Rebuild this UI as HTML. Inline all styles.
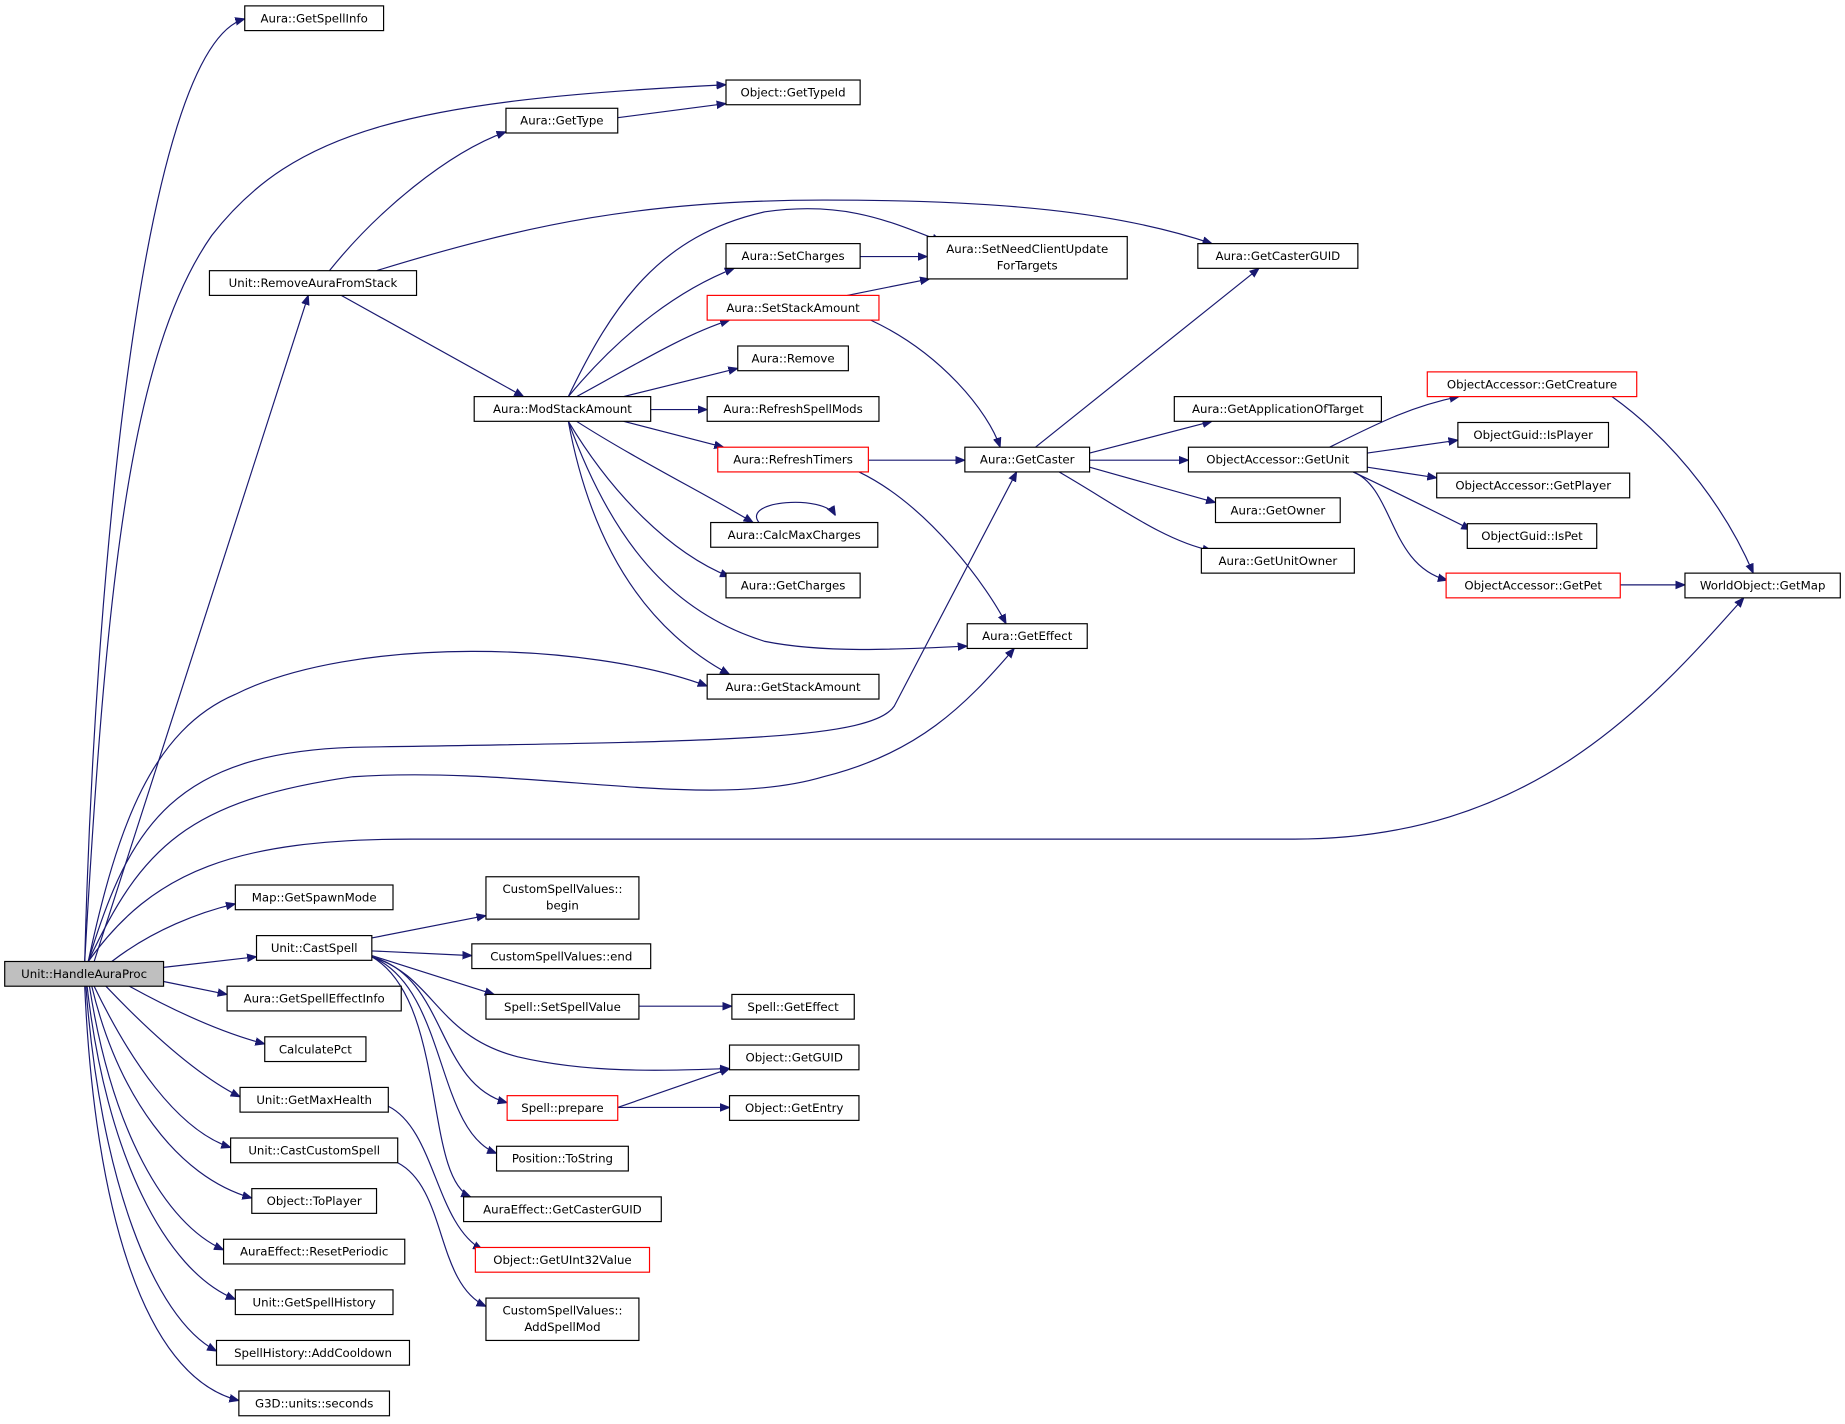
<!DOCTYPE html>
<html><head><meta charset="utf-8"><style>
html,body{margin:0;padding:0;background:#fff;}
svg{display:block;}
text{font-family:"DejaVu Sans","Liberation Sans",sans-serif;font-size:10px;fill:#000;}
.e{fill:none;stroke:#191970;stroke-width:1;}
.n{fill:#fff;stroke:#000;stroke-width:1;}
.r{fill:#fff;stroke:#ff0000;stroke-width:1;}
</style></head><body>
<svg width="1845" height="1424" viewBox="0 0 1568 1210" preserveAspectRatio="none" xmlns="http://www.w3.org/2000/svg">
<defs><marker id="a" viewBox="0 0 10 10" refX="10" refY="5" markerWidth="8" markerHeight="8" orient="auto"><path d="M0,1 L10,5 L0,9 z" fill="#191970" stroke="#191970"/></marker></defs>
<g marker-end="url(#a)">
<path class="e" d="M72,817 C 80,500 120,40 208,16"/>
<path class="e" d="M72,817 C 90,500 110,300 180,200 C 250,110 350,85 617,72"/>
<path class="e" d="M80,817 L262,251"/>
<path class="e" d="M75,817 C 100,700 130,620 200,590 C 300,540 500,545 601,583"/>
<path class="e" d="M75,817 C 110,700 150,640 300,635 C 600,630 740,630 760,600 L 864,401"/>
<path class="e" d="M75,817 C 120,720 160,680 300,660 C 450,650 600,690 700,660 C 780,640 820,600 862,551"/>
<path class="e" d="M75,817 C 130,740 200,713 350,713 L 1100,713 C 1300,713 1400,600 1482,508"/>
<path class="e" d="M95,817 C 130,790 170,775 200,768"/>
<path class="e" d="M139,822 L218,813"/>
<path class="e" d="M139,834 L193,845"/>
<path class="e" d="M110,838 C 150,860 190,878 225,887"/>
<path class="e" d="M90,838 C 130,880 170,915 204,932"/>
<path class="e" d="M80,838 C 110,900 150,960 196,975"/>
<path class="e" d="M78,838 C 100,930 150,1000 214,1018"/>
<path class="e" d="M76,838 C 95,960 140,1040 190,1062"/>
<path class="e" d="M74,838 C 90,980 140,1080 200,1104"/>
<path class="e" d="M73,838 C 85,1000 130,1120 184,1148"/>
<path class="e" d="M72,838 C 80,1020 120,1170 203,1190"/>
<path class="e" d="M280,230 C 320,180 380,130 430,112"/>
<path class="e" d="M525,100 L617,88"/>
<path class="e" d="M320,230 C 450,190 550,170 700,170 C 850,170 950,180 1030,207"/>
<path class="e" d="M290,251 L445,337"/>
<path class="e" d="M483,337 C 520,260 560,200 650,180 C 720,170 760,190 800,205"/>
<path class="e" d="M483,337 C 530,280 580,245 624,228"/>
<path class="e" d="M490,337 C 540,310 580,285 620,272"/>
<path class="e" d="M530,337 L627,313"/>
<path class="e" d="M553,348 L601,348"/>
<path class="e" d="M530,358 L615,380"/>
<path class="e" d="M490,358 C 540,390 600,420 640,444"/>
<path class="e" d="M483,358 C 520,420 570,470 620,490"/>
<path class="e" d="M483,358 C 520,460 570,520 650,545 C 700,555 760,552 822,549"/>
<path class="e" d="M483,358 C 500,450 540,530 620,573"/>
<path class="e" d="M731,218 L788,218"/>
<path class="e" d="M720,251 L790,237"/>
<path class="e" d="M740,272 C 800,300 840,350 850,380"/>
<path class="e" d="M738,391 L820,391"/>
<path class="e" d="M730,401 C 790,430 840,500 855,530"/>
<path class="e" d="M645,444 C 630,425 700,420 710,438"/>
<path class="e" d="M880,380 L1070,228"/>
<path class="e" d="M926,385 L1030,358"/>
<path class="e" d="M926,391 L1010,391"/>
<path class="e" d="M926,397 L1033,427"/>
<path class="e" d="M900,401 C 950,430 990,460 1030,468"/>
<path class="e" d="M1130,380 C 1170,360 1200,345 1240,337"/>
<path class="e" d="M1162,385 L1239,374"/>
<path class="e" d="M1162,397 L1221,406"/>
<path class="e" d="M1150,401 C 1190,420 1230,440 1250,450"/>
<path class="e" d="M1150,401 C 1185,415 1180,480 1230,493"/>
<path class="e" d="M1370,337 C 1430,380 1470,440 1490,487"/>
<path class="e" d="M1377,497 L1432,497"/>
<path class="e" d="M316,797 L413,778"/>
<path class="e" d="M316,808 L401,812"/>
<path class="e" d="M316,812 L420,845"/>
<path class="e" d="M316,813 C 370,830 370,880 440,898 C 500,912 560,910 620,908"/>
<path class="e" d="M316,813 C 380,830 370,920 431,937"/>
<path class="e" d="M316,813 C 380,840 370,960 422,980"/>
<path class="e" d="M316,813 C 380,850 360,1000 400,1017"/>
<path class="e" d="M543,855 L622,855"/>
<path class="e" d="M525,941 L620,908"/>
<path class="e" d="M525,941 L620,941"/>
<path class="e" d="M330,940 C 370,960 370,1040 410,1062"/>
<path class="e" d="M338,988 C 380,1010 370,1090 413,1110"/>
</g>
<g>
<rect x="4" y="817" width="135" height="21" fill="#bfbfbf" stroke="#000"/><text x="71.5" y="831" text-anchor="middle">Unit::HandleAuraProc</text>
<rect class="n" x="208" y="5" width="118" height="21"/><text x="267" y="19" text-anchor="middle">Aura::GetSpellInfo</text>
<rect class="n" x="617" y="68" width="114" height="21"/><text x="674" y="82" text-anchor="middle">Object::GetTypeId</text>
<rect class="n" x="430" y="92" width="95" height="21"/><text x="477.5" y="106" text-anchor="middle">Aura::GetType</text>
<rect class="n" x="1018" y="207" width="136" height="21"/><text x="1086" y="221" text-anchor="middle">Aura::GetCasterGUID</text>
<rect class="n" x="178" y="230" width="176" height="21"/><text x="266" y="244" text-anchor="middle">Unit::RemoveAuraFromStack</text>
<rect class="n" x="617" y="207" width="114" height="21"/><text x="674" y="221" text-anchor="middle">Aura::SetCharges</text>
<rect class="n" x="788" y="201" width="170" height="36"/><text x="873" y="215" text-anchor="middle">Aura::SetNeedClientUpdate</text><text x="873" y="229" text-anchor="middle">ForTargets</text>
<rect class="r" x="601" y="251" width="146" height="21"/><text x="674" y="265" text-anchor="middle">Aura::SetStackAmount</text>
<rect class="n" x="627" y="294" width="94" height="21"/><text x="674" y="308" text-anchor="middle">Aura::Remove</text>
<rect class="n" x="403" y="337" width="150" height="21"/><text x="478" y="351" text-anchor="middle">Aura::ModStackAmount</text>
<rect class="n" x="601" y="337" width="146" height="21"/><text x="674" y="351" text-anchor="middle">Aura::RefreshSpellMods</text>
<rect class="n" x="998" y="337" width="176" height="21"/><text x="1086" y="351" text-anchor="middle">Aura::GetApplicationOfTarget</text>
<rect class="r" x="1213" y="316" width="178" height="21"/><text x="1302" y="330" text-anchor="middle">ObjectAccessor::GetCreature</text>
<rect class="r" x="610" y="380" width="128" height="21"/><text x="674" y="394" text-anchor="middle">Aura::RefreshTimers</text>
<rect class="n" x="820" y="380" width="106" height="21"/><text x="873" y="394" text-anchor="middle">Aura::GetCaster</text>
<rect class="n" x="1010" y="380" width="152" height="21"/><text x="1086" y="394" text-anchor="middle">ObjectAccessor::GetUnit</text>
<rect class="n" x="1239" y="359" width="128" height="21"/><text x="1303" y="373" text-anchor="middle">ObjectGuid::IsPlayer</text>
<rect class="n" x="1221" y="402" width="164" height="21"/><text x="1303" y="416" text-anchor="middle">ObjectAccessor::GetPlayer</text>
<rect class="n" x="1033" y="423" width="106" height="21"/><text x="1086" y="437" text-anchor="middle">Aura::GetOwner</text>
<rect class="n" x="604" y="444" width="142" height="21"/><text x="675" y="458" text-anchor="middle">Aura::CalcMaxCharges</text>
<rect class="n" x="1247" y="445" width="110" height="21"/><text x="1302" y="459" text-anchor="middle">ObjectGuid::IsPet</text>
<rect class="n" x="1021" y="466" width="130" height="21"/><text x="1086" y="480" text-anchor="middle">Aura::GetUnitOwner</text>
<rect class="n" x="617" y="487" width="114" height="21"/><text x="674" y="501" text-anchor="middle">Aura::GetCharges</text>
<rect class="r" x="1229" y="487" width="148" height="21"/><text x="1303" y="501" text-anchor="middle">ObjectAccessor::GetPet</text>
<rect class="n" x="1432" y="487" width="132" height="21"/><text x="1498" y="501" text-anchor="middle">WorldObject::GetMap</text>
<rect class="n" x="822" y="530" width="102" height="21"/><text x="873" y="544" text-anchor="middle">Aura::GetEffect</text>
<rect class="n" x="601" y="573" width="146" height="21"/><text x="674" y="587" text-anchor="middle">Aura::GetStackAmount</text>
<rect class="n" x="200" y="752" width="134" height="21"/><text x="267" y="766" text-anchor="middle">Map::GetSpawnMode</text>
<rect class="n" x="413" y="745" width="130" height="36"/><text x="478" y="759" text-anchor="middle">CustomSpellValues::</text><text x="478" y="773" text-anchor="middle">begin</text>
<rect class="n" x="218" y="795" width="98" height="21"/><text x="267" y="809" text-anchor="middle">Unit::CastSpell</text>
<rect class="n" x="401" y="802" width="152" height="21"/><text x="477" y="816" text-anchor="middle">CustomSpellValues::end</text>
<rect class="n" x="193" y="838" width="148" height="21"/><text x="267" y="852" text-anchor="middle">Aura::GetSpellEffectInfo</text>
<rect class="n" x="413" y="845" width="130" height="21"/><text x="478" y="859" text-anchor="middle">Spell::SetSpellValue</text>
<rect class="n" x="622" y="845" width="104" height="21"/><text x="674" y="859" text-anchor="middle">Spell::GetEffect</text>
<rect class="n" x="225" y="881" width="86" height="21"/><text x="268" y="895" text-anchor="middle">CalculatePct</text>
<rect class="n" x="620" y="888" width="110" height="21"/><text x="675" y="902" text-anchor="middle">Object::GetGUID</text>
<rect class="n" x="204" y="924" width="126" height="21"/><text x="267" y="938" text-anchor="middle">Unit::GetMaxHealth</text>
<rect class="r" x="431" y="931" width="94" height="21"/><text x="478" y="945" text-anchor="middle">Spell::prepare</text>
<rect class="n" x="620" y="931" width="110" height="21"/><text x="675" y="945" text-anchor="middle">Object::GetEntry</text>
<rect class="n" x="196" y="967" width="142" height="21"/><text x="267" y="981" text-anchor="middle">Unit::CastCustomSpell</text>
<rect class="n" x="422" y="974" width="112" height="21"/><text x="478" y="988" text-anchor="middle">Position::ToString</text>
<rect class="n" x="214" y="1010" width="106" height="21"/><text x="267" y="1024" text-anchor="middle">Object::ToPlayer</text>
<rect class="n" x="394" y="1017" width="168" height="21"/><text x="478" y="1031" text-anchor="middle">AuraEffect::GetCasterGUID</text>
<rect class="n" x="190" y="1053" width="154" height="21"/><text x="267" y="1067" text-anchor="middle">AuraEffect::ResetPeriodic</text>
<rect class="r" x="404" y="1060" width="148" height="21"/><text x="478" y="1074" text-anchor="middle">Object::GetUInt32Value</text>
<rect class="n" x="200" y="1096" width="134" height="21"/><text x="267" y="1110" text-anchor="middle">Unit::GetSpellHistory</text>
<rect class="n" x="413" y="1103" width="130" height="36"/><text x="478" y="1117" text-anchor="middle">CustomSpellValues::</text><text x="478" y="1131" text-anchor="middle">AddSpellMod</text>
<rect class="n" x="184" y="1139" width="164" height="21"/><text x="266" y="1153" text-anchor="middle">SpellHistory::AddCooldown</text>
<rect class="n" x="203" y="1182" width="128" height="21"/><text x="267" y="1196" text-anchor="middle">G3D::units::seconds</text>
</g>
</svg>
</body></html>
